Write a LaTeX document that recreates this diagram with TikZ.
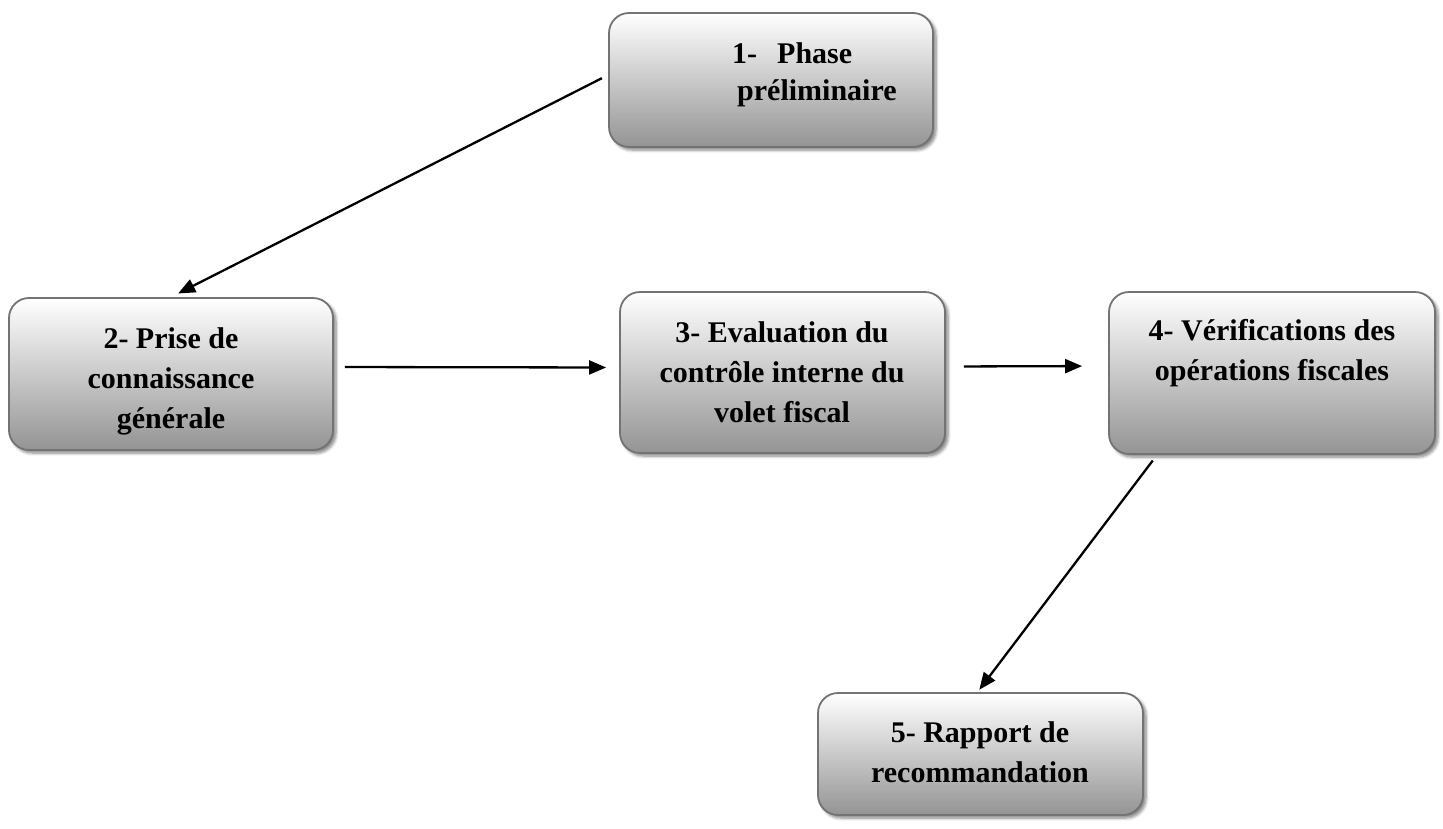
\documentclass[tikz,border=0pt]{standalone}
\usepackage{fontspec}
\setmainfont{Liberation Serif}
\usetikzlibrary{arrows.meta,shadows.blur}
\begin{document}
\begin{tikzpicture}[x=1pt,y=-1pt,
  stagebox/.style={rectangle, rounded corners=20pt, draw=black!55, line width=1.8pt,
    top color=white, bottom color=black!42,
    blur shadow={shadow xshift=3pt, shadow yshift=-3pt, shadow blur steps=6, shadow blur radius=3pt, shadow opacity=50},
    inner sep=0pt},
  stagetext/.style={font=\bfseries\fontsize{30}{40}\selectfont, align=center, anchor=base, inner sep=0pt},
  flow/.style={line width=2.3pt, -{Triangle[length=17pt,width=14pt]}}]
\useasboundingbox (0,0) rectangle (1443,828);
% boxes
\node[stagebox, minimum width=324pt, minimum height=134pt] (b1) at (771,80) {};
\node[stagebox, minimum width=324pt, minimum height=152pt] (b2) at (171,374) {};
\node[stagebox, minimum width=325pt, minimum height=161pt] (b3) at (782.5,372.5) {};
\node[stagebox, minimum width=326pt, minimum height=162pt] (b4) at (1272,373) {};
\node[stagebox, minimum width=325pt, minimum height=122pt] (b5) at (980.5,754) {};
% texts
\node[font=\bfseries\fontsize{30}{37}\selectfont, align=left, anchor=base west, inner sep=0pt] (t1) at (732,100) {1-\hspace{20pt}Phase\\\hspace{5pt}préliminaire};
\node[stagetext] (t2) at (171,428) {2- Prise de\\connaissance\\générale};
\node[stagetext] (t3) at (782,422) {3- Evaluation du\\contrôle interne du\\volet fiscal};
\node[stagetext] (t4) at (1272,380) {4- Vérifications des\\opérations fiscales};
\node[stagetext] (t5) at (980,782) {5- Rapport de\\recommandation};
% connectors
\draw[flow, shorten <=7pt, shorten >=8pt] ([yshift=5pt]b1.west) -- (b2.north);
\draw[flow, shorten <=11pt, shorten >=13pt] ([yshift=7pt]b2.east) -- ([yshift=5pt]b3.west);
\draw[flow, shorten <=18pt, shorten >=26pt] ([yshift=6pt]b3.east) -- ([yshift=7pt]b4.west);
\draw[flow, shorten <=7pt, shorten >=3pt] ([xshift=-115pt]b4.south) -- ([xshift=-3pt]b5.north);
\end{tikzpicture}
\end{document}
